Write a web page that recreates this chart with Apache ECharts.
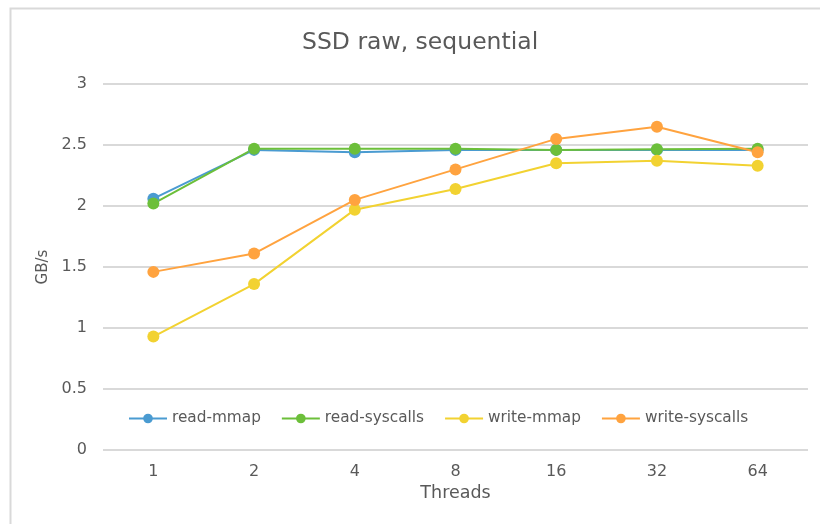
<!DOCTYPE html>
<html>
<head>
<meta charset="utf-8">
<script src="https://cdn.jsdelivr.net/npm/echarts@6/dist/echarts.min.js"></script>
<style>
  html, body { margin: 0; padding: 0; background: #fff; }
  #chart { width: 820px; height: 524px; }
</style>
</head>
<body>
<div id="chart"></div>
<script>
const categories = ['1', '2', '4', '8', '16', '32', '64'];
const readMmap = [2.06, 2.46, 2.44, 2.46, 2.46, 2.46, 2.46];
const readSyscalls = [2.02, 2.47, 2.47, 2.47, 2.46, 2.465, 2.47];
const writeMmap = [0.93, 1.36, 1.97, 2.14, 2.35, 2.37, 2.33];
const writeSyscalls = [1.46, 1.61, 2.05, 2.30, 2.55, 2.65, 2.44];
const seriesNames = ['read-mmap', 'read-syscalls', 'write-mmap', 'write-syscalls'];
const colors = ['#4a9bd1', '#6cbf3a', '#f2d231', '#ffa33f'];

const FONT = '"DejaVu Sans", "Liberation Sans", sans-serif';
const TXT = '#595959';
const chart = echarts.init(document.getElementById('chart'), null, { renderer: 'canvas' });

function mk(name, data, color) {
  return {
    name: name, type: 'line', data: data,
    symbol: 'circle', symbolSize: 12,
    lineStyle: { width: 2, color: color },
    itemStyle: { color: color },
    animation: false
  };
}

chart.setOption({
  animation: false,
  color: colors,
  textStyle: { fontFamily: FONT },
  graphic: [{
    type: 'rect', left: 8, top: 6,
    shape: { width: 900, height: 600 },
    style: { fill: 'none', stroke: '#d9d9d9', lineWidth: 2 },
    silent: true
  }],
  title: {
    text: 'SSD raw, sequential',
    left: 297, top: 26,
    textStyle: { fontFamily: FONT, fontSize: 23.5, fontWeight: 'normal', color: TXT }
  },
  legend: {
    data: seriesNames,
    left: 123, top: 406,
    itemWidth: 38, itemHeight: 12, itemGap: 20,
    textStyle: { fontFamily: FONT, fontSize: 15.3, color: TXT }
  },
  grid: { left: 103, right: 12, top: 84, bottom: 74, containLabel: false },
  xAxis: {
    type: 'category', data: categories, boundaryGap: true,
    name: 'Threads', nameLocation: 'middle', nameGap: 33,
    nameTextStyle: { fontFamily: FONT, fontSize: 17.5, color: TXT },
    axisLine: { show: false }, axisTick: { show: false },
    axisLabel: { fontFamily: FONT, fontSize: 16, color: TXT, margin: 14 }
  },
  yAxis: {
    type: 'value', min: 0, max: 3, interval: 0.5,
    name: 'GB/s', nameLocation: 'middle', nameGap: 52,
    nameTextStyle: { fontFamily: FONT, fontSize: 15, color: TXT },
    axisLine: { show: false }, axisTick: { show: false },
    axisLabel: { fontFamily: FONT, fontSize: 16, color: TXT, margin: 16 },
    splitLine: { lineStyle: { color: '#d9d9d9', width: 2 } }
  },
  series: [
    mk(seriesNames[0], readMmap, colors[0]),
    mk(seriesNames[1], readSyscalls, colors[1]),
    mk(seriesNames[2], writeMmap, colors[2]),
    mk(seriesNames[3], writeSyscalls, colors[3])
  ]
});
</script>
</body>
</html>
